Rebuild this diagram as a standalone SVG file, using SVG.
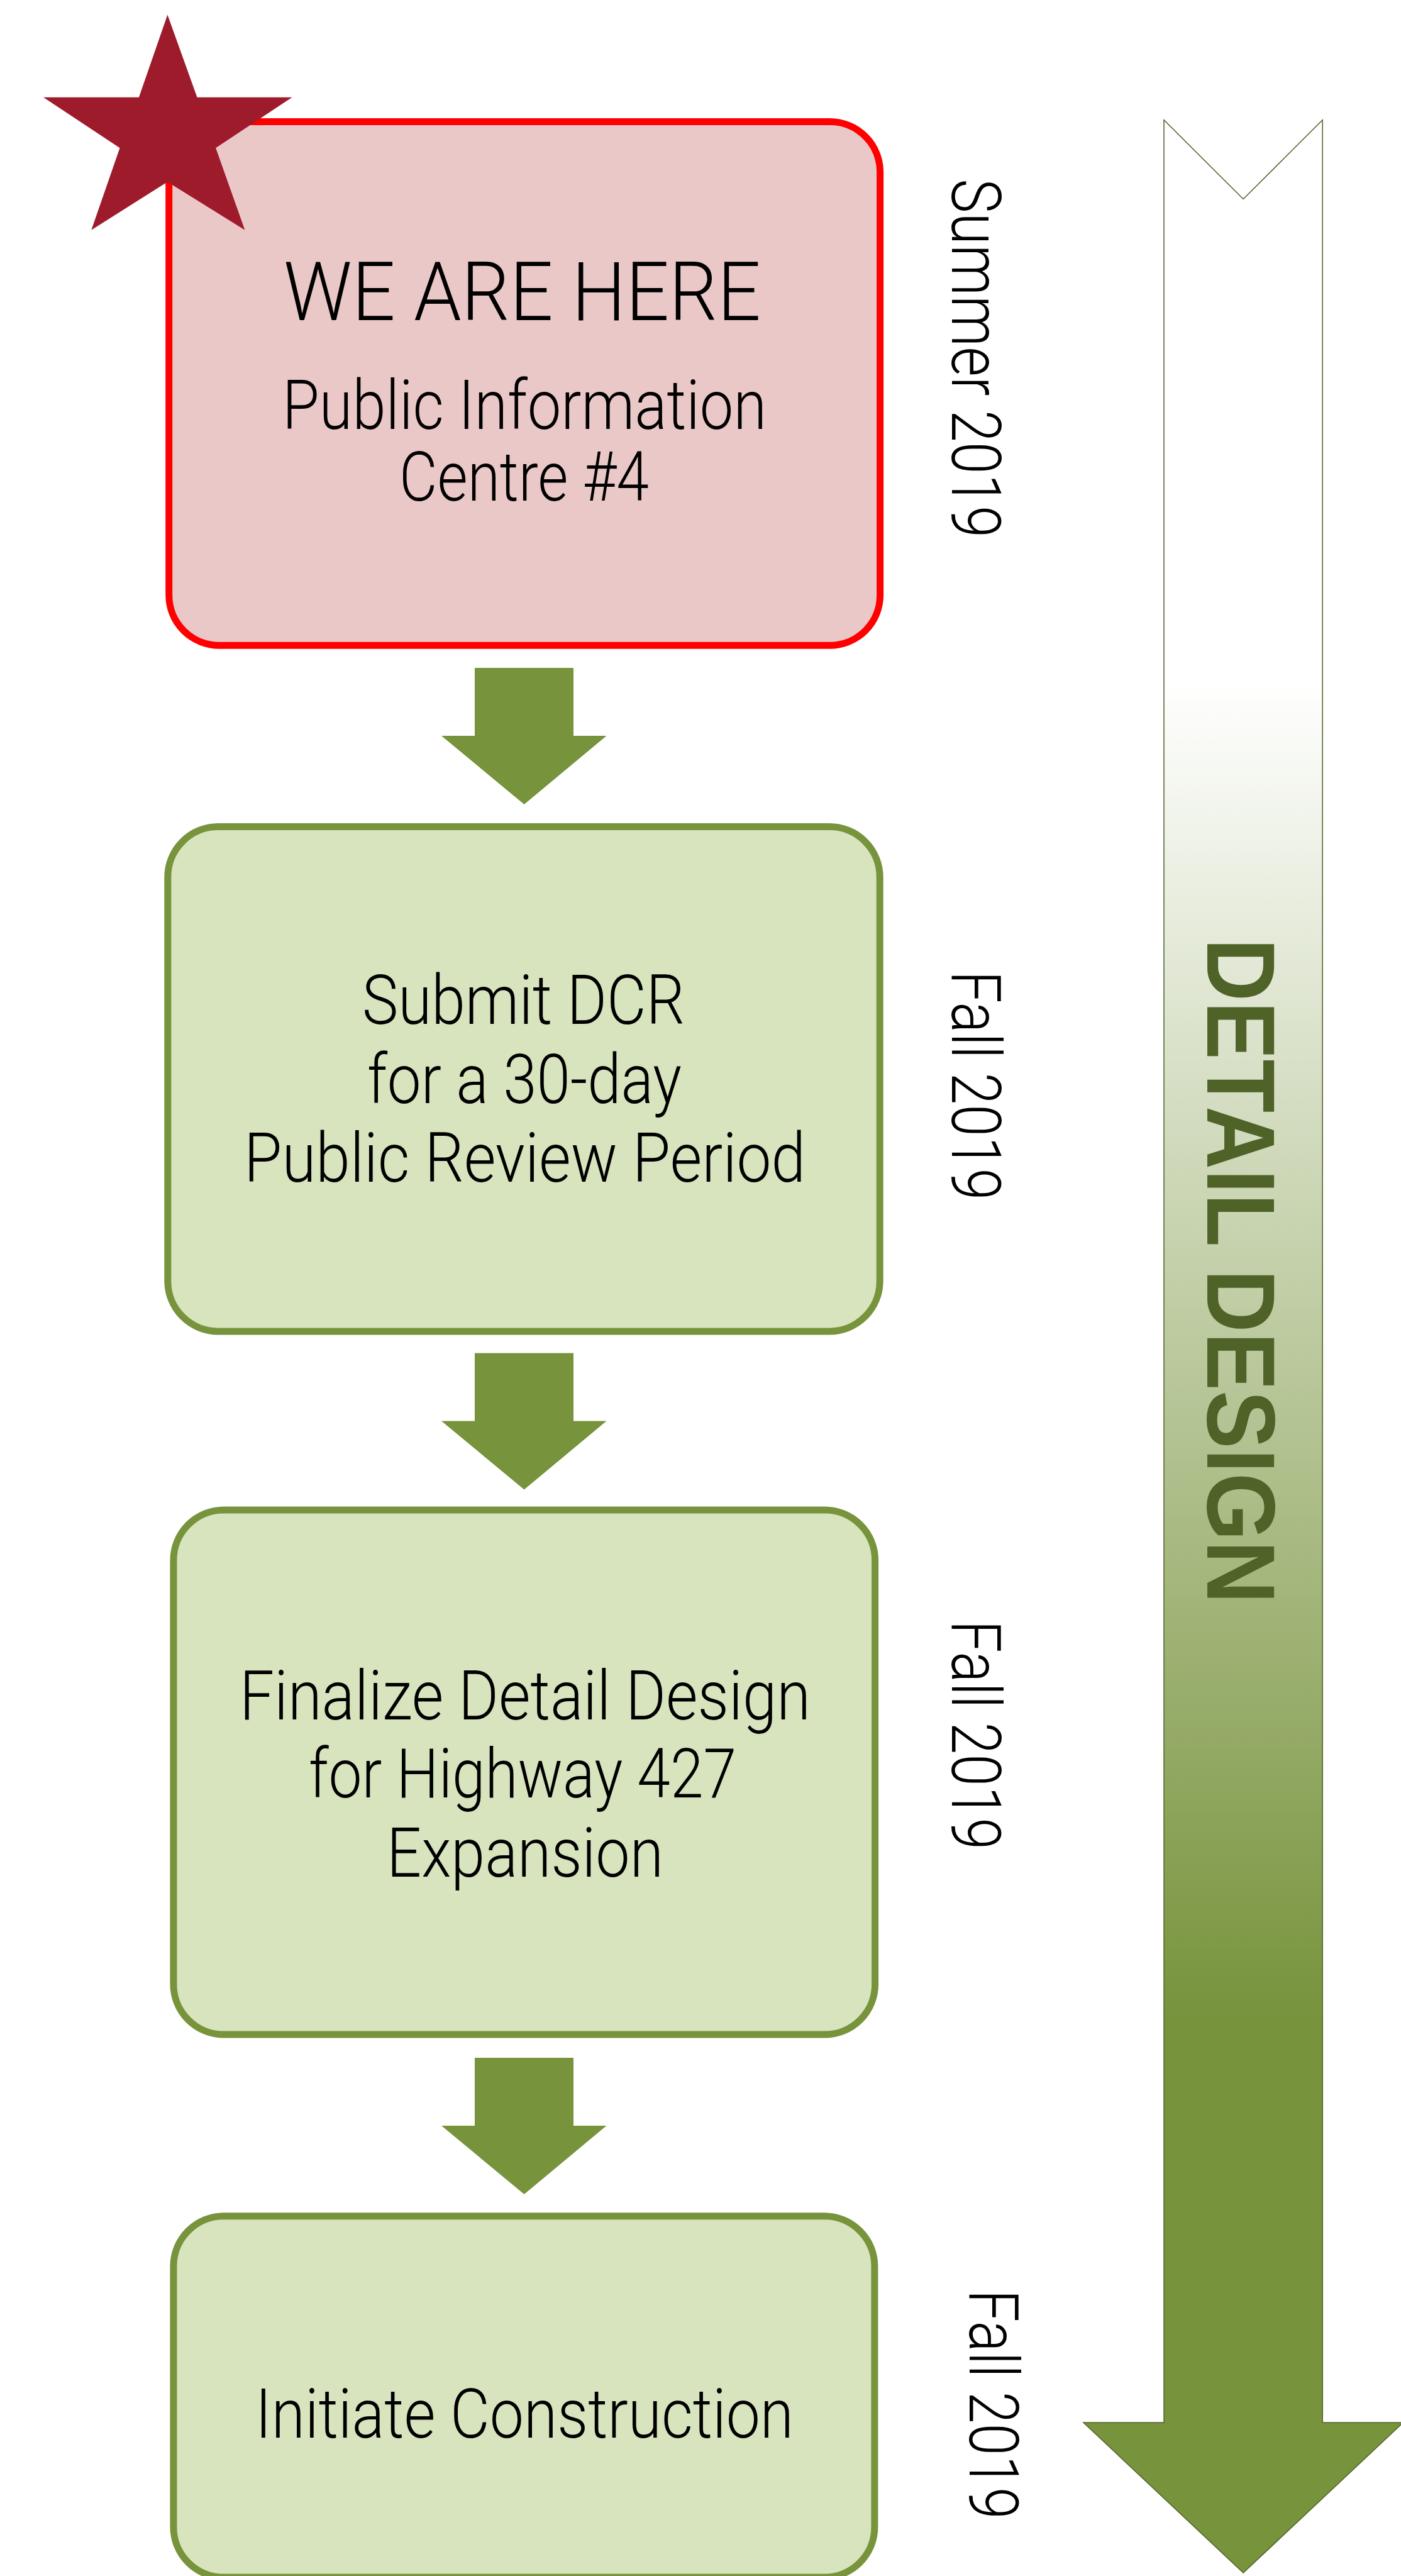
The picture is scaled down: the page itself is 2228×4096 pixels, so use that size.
<svg xmlns="http://www.w3.org/2000/svg" width="2228" height="4096" viewBox="0 0 2228 4096">
  <defs>
    <linearGradient id="phaseGrad" gradientUnits="userSpaceOnUse" x1="0" y1="1082" x2="0" y2="3212">
      <stop offset="0" stop-color="#FFFFFF"/>
      <stop offset="1" stop-color="#77933C"/>
    </linearGradient>
  </defs>
  <style>
    .box-current { fill: #EBC8C8; stroke: #FF0000; stroke-width: 11; }
    .box-step { fill: #D7E4BD; stroke: #77933C; stroke-width: 11; }
    .flow { fill: #77933C; stroke: none; }
    .txt { font-family: Roboto, "Open Sans", "Liberation Sans", sans-serif; font-weight: 300; fill: #000000; }
    .main { font-size: 109px; }
    .big { font-size: 130px; }
    .date { font-size: 109px; }
    .phase { font-family: "Liberation Sans Narrow", "Liberation Sans", Arial, sans-serif; font-weight: bold; font-size: 154px; fill: #4F6228; }
  </style>
  <rect width="2228" height="4096" fill="#FFFFFF"/>

  <g id="phase-arrow">
    <path d="M1851,190.8 L1977.2,316.5 L2103.2,190.8 L2103.2,3852 L2231.4,3852 L1977.2,4091 L1723,3852 L1851,3852 Z" fill="url(#phaseGrad)" stroke="#4F6228" stroke-width="1.5"/>
    <text class="phase" transform="translate(1920,1492) rotate(90)" x="0" y="0" textLength="1058" lengthAdjust="spacingAndGlyphs">DETAIL DESIGN</text>
  </g>

  <g id="connectors">
    <path class="flow" d="M755,1062 H912 V1170 H964.5 L833.6,1279 L702,1170 H755 Z"/>
    <path class="flow" d="M755,2151.5 H912 V2259.5 H964.5 L833.6,2368.5 L702,2259.5 H755 Z"/>
    <path class="flow" d="M755,3272 H912 V3380 H964.5 L833.6,3489 L702,3380 H755 Z"/>
  </g>

  <g id="node-pic4">
    <rect class="box-current" x="268.7" y="193.5" width="1130.9" height="832.7" rx="80" ry="80"/>
    <text class="txt big" x="451" y="509" textLength="759" lengthAdjust="spacingAndGlyphs">WE ARE HERE</text>
    <text class="txt main" x="449" y="682" textLength="770" lengthAdjust="spacingAndGlyphs">Public Information</text>
    <text class="txt main" x="635" y="796" textLength="397" lengthAdjust="spacingAndGlyphs">Centre #4</text>
  </g>

  <g id="marker-star">
    <polygon points="266.4,23.5 313.5,154.8 464.5,154.8 343.1,235.3 389.4,365.8 266.4,289.2 145.3,365.8 190.5,235.3 69,154.8 220.9,154.8" fill="#9E1B2B"/>
  </g>

  <g id="node-dcr">
    <rect class="box-step" x="266.8" y="1314.6" width="1132.4" height="802.3" rx="80" ry="80"/>
    <text class="txt main" x="576" y="1628.4" textLength="513" lengthAdjust="spacingAndGlyphs">Submit DCR</text>
    <text class="txt main" x="584" y="1753.5" textLength="500" lengthAdjust="spacingAndGlyphs">for a 30-day</text>
    <text class="txt main" x="388" y="1878.6" textLength="893" lengthAdjust="spacingAndGlyphs">Public Review Period</text>
  </g>

  <g id="node-finalize">
    <rect class="box-step" x="275.9" y="2401" width="1115.7" height="834" rx="80" ry="80"/>
    <text class="txt main" x="381" y="2733.5" textLength="908" lengthAdjust="spacingAndGlyphs">Finalize Detail Design</text>
    <text class="txt main" x="491" y="2858.2" textLength="680" lengthAdjust="spacingAndGlyphs">for Highway 427</text>
    <text class="txt main" x="615" y="2984.3" textLength="440" lengthAdjust="spacingAndGlyphs">Expansion</text>
  </g>

  <g id="node-construction">
    <rect class="box-step" x="275.9" y="3523.7" width="1115" height="574.3" rx="80" ry="80"/>
    <text class="txt main" x="406" y="3875.5" textLength="856" lengthAdjust="spacingAndGlyphs">Initiate Construction</text>
  </g>

  <g id="date-labels">
    <text class="txt date" transform="translate(1514.2,284.3) rotate(90)" x="0" y="0" textLength="570.8" lengthAdjust="spacingAndGlyphs">Summer 2019</text>
    <text class="txt date" transform="translate(1514.2,1543.4) rotate(90)" x="0" y="0" textLength="365" lengthAdjust="spacingAndGlyphs">Fall 2019</text>
    <text class="txt date" transform="translate(1514.2,2576.3) rotate(90)" x="0" y="0" textLength="365" lengthAdjust="spacingAndGlyphs">Fall 2019</text>
    <text class="txt date" transform="translate(1541.5,3640.6) rotate(90)" x="0" y="0" textLength="365" lengthAdjust="spacingAndGlyphs">Fall 2019</text>
  </g>
</svg>
